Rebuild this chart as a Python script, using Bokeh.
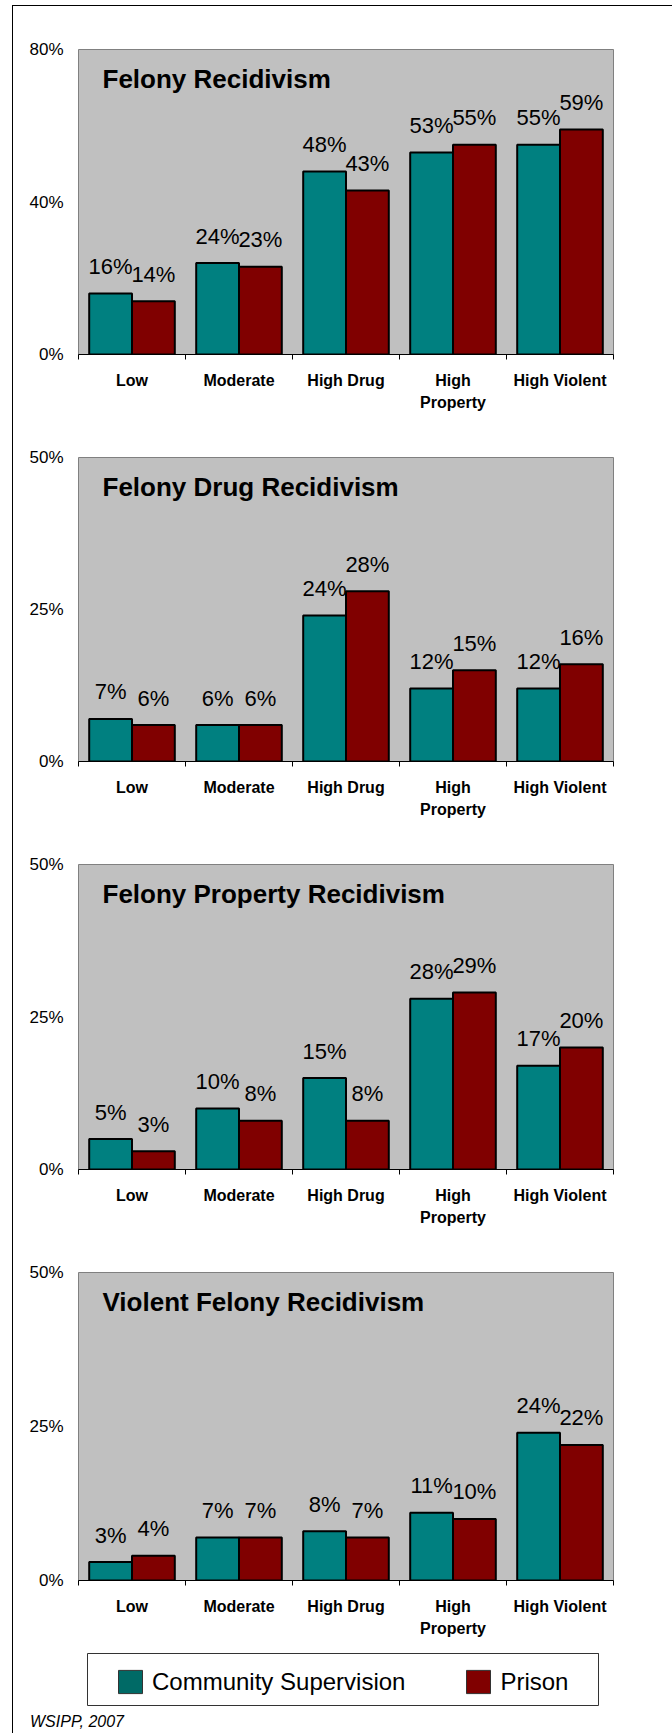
from bokeh.plotting import figure
from bokeh.models import (Range1d, FixedTicker, PrintfTickFormatter, ColumnDataSource,
                          Label, Legend, LegendItem, Div)
from bokeh.layouts import column
from bokeh.embed import file_html
from bokeh.resources import INLINE
from bokeh.core.properties import value
import numpy as np

# ---------------- data ----------------
categories = ["Low", "Moderate", "High Drug", "High\nProperty", "High Violent"]
series_names = ["Community Supervision", "Prison"]

titles = ["Felony Recidivism", "Felony Drug Recidivism",
          "Felony Property Recidivism", "Violent Felony Recidivism"]

felony_cs = [16, 24, 48, 53, 55]
felony_pr = [14, 23, 43, 55, 59]

drug_cs = [7, 6, 24, 12, 12]
drug_pr = [6, 6, 28, 15, 16]

property_cs = [5, 10, 15, 28, 17]
property_pr = [3, 8, 8, 29, 20]

violent_cs = [3, 7, 8, 11, 24]
violent_pr = [4, 7, 7, 10, 22]

y_max = [80, 50, 50, 50]
y_ticks = [[0, 40, 80], [0, 25, 50], [0, 25, 50], [0, 25, 50]]

source_note = "WSIPP, 2007"

# ---------------- style ----------------
FONT = "Liberation Sans"
TEAL = "#008080"
RED = "#800000"
BG = "#C0C0C0"

panels = [(felony_cs, felony_pr), (drug_cs, drug_pr),
          (property_cs, property_pr), (violent_cs, violent_pr)]
heights = [408, 407, 408, 416]
bottoms = [57, 56, 57, 65]

FIG_W = 651
BAR_W = 0.4


def make_panel(k):
    cs, pr = panels[k]
    n = len(categories)
    idx = np.arange(n)
    p = figure(width=FIG_W, height=heights[k], output_backend="svg", toolbar_location=None,
               x_range=Range1d(-0.5, n - 0.5), y_range=Range1d(0, y_max[k]),
               min_border_left=65, min_border_right=51, min_border_top=43,
               min_border_bottom=bottoms[k])
    p.background_fill_color = BG
    p.border_fill_color = "white"
    p.outline_line_color = "#808080"
    p.outline_line_width = 1
    p.grid.visible = False

    src = ColumnDataSource(dict(
        x_cs=idx - BAR_W / 2, x_pr=idx + BAR_W / 2,
        cs=cs, pr=pr,
        cs_lab=[f"{v}%" for v in cs], pr_lab=[f"{v}%" for v in pr]))

    p.vbar(x="x_cs", top="cs", width=BAR_W, bottom=0, source=src,
           fill_color=TEAL, line_color="black", line_width=2)
    p.vbar(x="x_pr", top="pr", width=BAR_W, bottom=0, source=src,
           fill_color=RED, line_color="black", line_width=2)

    for xs, ys, labs in (("x_cs", "cs", "cs_lab"), ("x_pr", "pr", "pr_lab")):
        p.text(x=xs, y=ys, text=labs, source=src, text_align="center",
               text_baseline="alphabetic", y_offset=-27,
               text_font=value(FONT), text_font_size="22px", text_color="black")

    p.add_layout(Label(x=-0.5, y=y_max[k], text=titles[k], x_offset=24, y_offset=-29,
                       text_font=FONT, text_font_size="26px", text_font_style="bold",
                       text_color="black", text_baseline="alphabetic"))

    # x axis: labels at category centres, ticks at category boundaries
    xa = p.xaxis[0]
    xa.ticker = FixedTicker(ticks=list(idx), minor_ticks=list(np.arange(n + 1) - 0.5))
    xa.major_label_overrides = {int(i): c for i, c in zip(idx, categories)}
    xa.major_tick_in = 0
    xa.major_tick_out = 0
    xa.minor_tick_in = 0
    xa.minor_tick_out = 5
    xa.minor_tick_line_color = "black"
    xa.axis_line_color = "black"
    xa.axis_line_width = 1
    xa.major_label_standoff = 12
    xa.major_label_text_font = FONT
    xa.major_label_text_font_size = "16px"
    xa.major_label_text_font_style = "bold"
    xa.major_label_text_color = "black"
    xa.major_label_text_line_height = 1.35

    ya = p.yaxis[0]
    ya.ticker = FixedTicker(ticks=y_ticks[k], minor_ticks=[])
    ya.formatter = PrintfTickFormatter(format="%d%%")
    ya.axis_line_color = None
    ya.major_tick_line_color = None
    ya.minor_tick_line_color = None
    ya.major_tick_out = 0
    ya.major_tick_in = 0
    ya.major_label_standoff = 15
    ya.major_label_text_font = FONT
    ya.major_label_text_font_size = "17px"
    ya.major_label_text_color = "black"
    return p


figs = [make_panel(k) for k in range(4)]

# legend strip: the frame outline is the legend box
lg = figure(width=FIG_W, height=65, output_backend="svg", toolbar_location=None,
            x_range=Range1d(0, 1), y_range=Range1d(0, 1),
            min_border_left=74, min_border_right=66, min_border_top=8, min_border_bottom=5)
lg.axis.visible = False
lg.grid.visible = False
lg.outline_line_color = "#333333"
lg.outline_line_width = 1
lg.background_fill_color = "white"
lg.border_fill_color = "white"
# swatch renderers: their single bar lies outside the visible range
r1 = lg.vbar(x=[5], top=[5], bottom=[4], width=0.1, fill_color="#006A66",
             line_color="#333333", line_width=1)
r2 = lg.vbar(x=[5], top=[5], bottom=[4], width=0.1, fill_color="#800000",
             line_color="#333333", line_width=1)
legend = Legend(items=[LegendItem(label=series_names[0], renderers=[r1]),
                       LegendItem(label=series_names[1], renderers=[r2])],
                orientation="horizontal", location=(28, 9), padding=0, margin=0,
                spacing=58, glyph_width=30, glyph_height=29, label_height=29,
                label_standoff=7, border_line_color=None, background_fill_alpha=0,
                label_text_font=FONT, label_text_font_size="24px", label_text_color="black")
lg.add_layout(legend, "center")

note = Div(text=source_note, width=FIG_W, height=22,
           styles={"font-family": FONT, "font-style": "italic", "font-size": "16px",
                   "color": "black", "padding-left": "12px", "padding-top": "0px",
                   "line-height": "14px", "box-sizing": "border-box"})

layout = column(column(*figs), column(lg), note, margin=(5, 0, 0, 12),
                styles={"border-left": "1px solid black", "border-right": "1px solid black",
                        "border-top": "1px solid black"})

open("out.html", "w").write(file_html(layout, INLINE))
